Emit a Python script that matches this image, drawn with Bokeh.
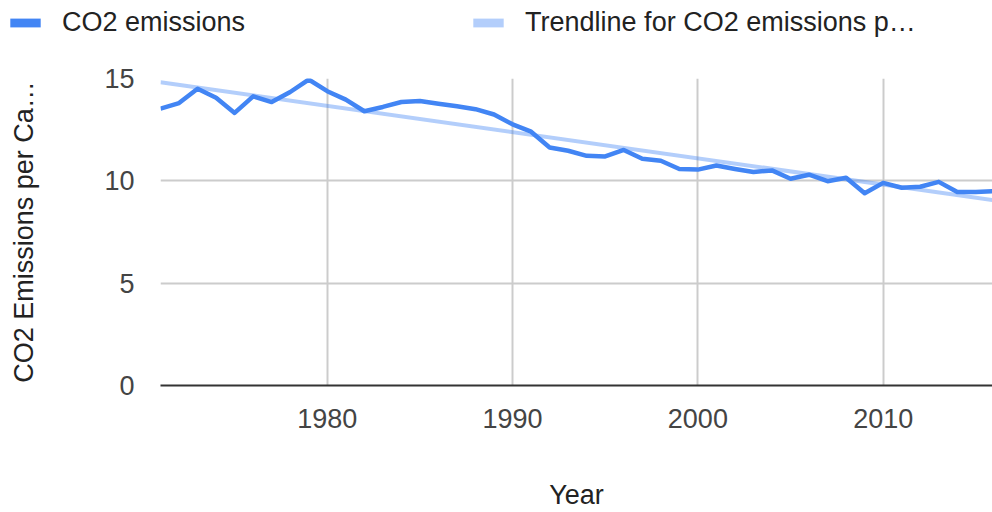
from bokeh.plotting import figure
from bokeh.layouts import column
from bokeh.models import Range1d, FixedTicker, Legend, LegendItem
from bokeh.embed import file_html
from bokeh.resources import INLINE
import numpy as np

# Annual CO2 emissions per capita
years = list(range(1971, 2017))
co2 = [13.53, 13.80, 14.50, 14.06, 13.32, 14.13, 13.85, 14.34, 14.95, 14.38,
       13.97, 13.40, 13.61, 13.85, 13.90, 13.77, 13.64, 13.50, 13.24, 12.76,
       12.40, 11.63, 11.47, 11.22, 11.19, 11.51, 11.08, 10.98, 10.58, 10.55,
       10.75, 10.58, 10.43, 10.51, 10.10, 10.30, 9.98, 10.15, 9.39, 9.90,
       9.66, 9.71, 9.95, 9.45, 9.45, 9.50]

x_ticks = [1980, 1990, 2000, 2010]
y_ticks = [0, 5, 10, 15]

series_labels = ["CO2 emissions", "Trendline for CO2 emissions p\u2026"]

# Linear least-squares trendline over the series
slope, intercept = np.polyfit(years, co2, 1)
trend_x = [years[0], years[-1]]
trend_y = [slope * x + intercept for x in trend_x]

FONT = "Liberation Sans"
FS = "27px"
BLUE = "#4285F4"
LEGEND_H = 44

# ---- main chart ----
p = figure(width=992, height=512 - LEGEND_H, output_backend="svg",
           toolbar_location=None, title=None,
           x_range=Range1d(1971, 2015.9), y_range=Range1d(0, 15),
           min_border_left=160, min_border_right=0,
           min_border_top=78 - LEGEND_H, min_border_bottom=124)
p.frame_align = False
p.outline_line_color = None
p.background_fill_color = "white"
p.border_fill_color = "white"

p.line(trend_x, trend_y, line_color=BLUE, line_alpha=0.4, line_width=4)
p.line(years, co2, line_color=BLUE, line_width=4.5, line_join="round")

# Grid
p.xgrid.ticker = FixedTicker(ticks=x_ticks)
p.ygrid.ticker = FixedTicker(ticks=y_ticks)
for g in (p.xgrid, p.ygrid):
    g.grid_line_color = "#cccccc"
    g.grid_line_width = 2

# X axis
xa = p.xaxis[0]
xa.ticker = FixedTicker(ticks=x_ticks)
xa.axis_line_color = "#333333"
xa.axis_line_width = 2
xa.major_tick_line_color = None
xa.minor_tick_line_color = None
xa.major_label_standoff = 17
xa.major_label_text_font = FONT
xa.major_label_text_font_size = FS
xa.major_label_text_color = "#444444"
xa.axis_label = "Year"
xa.axis_label_standoff = 49
xa.axis_label_text_font = FONT
xa.axis_label_text_font_size = FS
xa.axis_label_text_font_style = "normal"
xa.axis_label_text_color = "#222222"

# Y axis
ya = p.yaxis[0]
ya.ticker = FixedTicker(ticks=y_ticks)
ya.axis_line_color = None
ya.major_tick_line_color = None
ya.minor_tick_line_color = None
ya.major_label_standoff = 20
ya.major_label_text_font = FONT
ya.major_label_text_font_size = FS
ya.major_label_text_color = "#444444"
ya.axis_label = "CO2 Emissions per Ca\u2026"
ya.axis_label_standoff = 62
ya.axis_label_text_font = FONT
ya.axis_label_text_font_size = FS
ya.axis_label_text_font_style = "normal"
ya.axis_label_text_color = "#222222"

# ---- legend strip across the top ----
lf = figure(width=992, height=LEGEND_H, output_backend="svg",
            toolbar_location=None, title=None, x_axis_type=None,
            y_axis_type=None, x_range=Range1d(0, 1), y_range=Range1d(0, 1),
            min_border=0)
lf.frame_align = False
lf.outline_line_color = None
lf.grid.visible = False
lf.background_fill_color = "white"
lf.border_fill_color = "white"

# swatch renderers sit outside the visible range; only their legend glyphs show
sw1 = lf.quad(left=[-10], right=[-9], bottom=[-10], top=[-9],
              fill_color=BLUE, line_color=None)
sw2 = lf.quad(left=[-10], right=[-9], bottom=[-10], top=[-9],
              fill_color=BLUE, fill_alpha=0.4, line_color=None)

legend = Legend(items=[LegendItem(label=series_labels[0], renderers=[sw1]),
                       LegendItem(label=series_labels[1], renderers=[sw2])],
                location=(6, 6), orientation="horizontal",
                glyph_width=38, glyph_height=11, label_standoff=18,
                padding=0, margin=0, spacing=224,
                border_line_color=None, background_fill_alpha=0,
                label_text_font=FONT, label_text_font_size=FS,
                label_text_color="#222222")
lf.add_layout(legend)

layout = column(lf, p, spacing=0)
open("out.html", "w").write(file_html(layout, INLINE))
